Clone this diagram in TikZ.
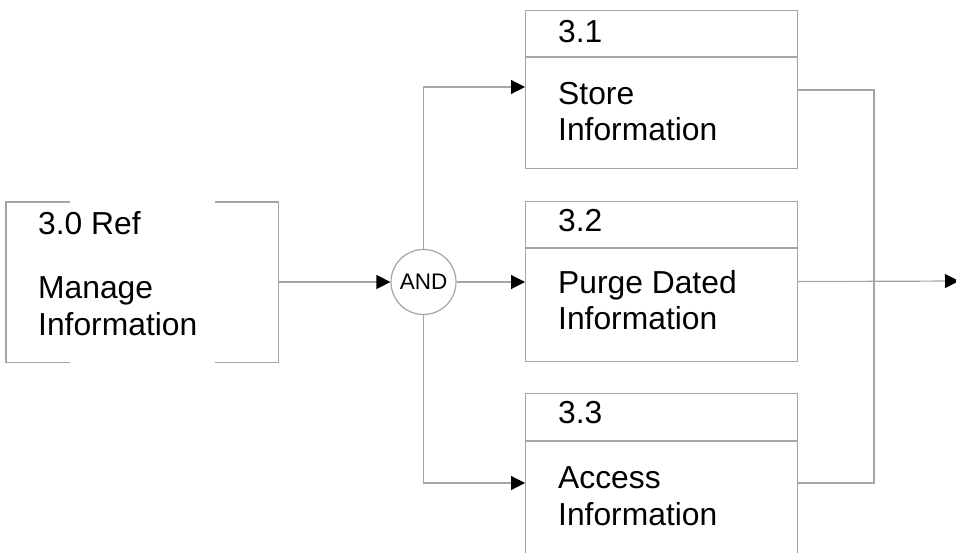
\documentclass[tikz,border=0pt]{standalone}
\usepackage{fontspec}
\setmainfont{Liberation Sans}
\usetikzlibrary{arrows.meta}
\definecolor{lg}{RGB}{165,165,165}
\begin{document}
\begin{tikzpicture}[x=1pt,y=-1pt,
  ln/.style={draw=lg,line width=1.2pt},
  arr/.style={ln,-{Triangle[length=14pt,width=14pt,color=black,fill=black]}},
  lbl/.style={anchor=base west,inner sep=0pt,font=\fontsize{31.8}{37}\selectfont},
  procbox/.style={draw=lg,line width=1.2pt,minimum width=272pt,anchor=north west,inner sep=0pt}]
\clip (0,0) rectangle (956,552);
\fill[white] (0,0) rectangle (956,552);

% parent (reference) box with gaps
\node[anchor=north west,minimum width=272pt,minimum height=160pt,inner sep=0pt] (ref) at (6,202) {};
\draw[ln] ([xshift=64pt]ref.north west) -- (ref.north west) -- (ref.south west) -- ([xshift=64pt]ref.south west);
\draw[ln] ([xshift=-63pt]ref.north east) -- (ref.north east) -- (ref.south east) -- ([xshift=-63pt]ref.south east);
\node[lbl] (r1) at (38,234) {3.0 Ref};
\node[lbl] (r2) at (38,298) {Manage};
\node[lbl] (r3) at (38,335) {Information};

% AND junction
\node[circle,draw=lg,line width=1.2pt,minimum size=65pt,inner sep=0pt,font=\fontsize{22.5}{26}\selectfont] (and) at (423.5,282) {AND};

% process boxes
\node[procbox,minimum height=158pt] (b31) at (525,10) {};
\draw[ln] (525,57) -- (797,57);
\node[lbl] (t31a) at (558,42) {3.1};
\node[lbl] (t31b) at (558,104) {Store};
\node[lbl] (t31c) at (558,140) {Information};

\node[procbox,minimum height=160pt] (b32) at (525,201) {};
\draw[ln] (525,248) -- (797,248);
\node[lbl] (t32a) at (558,231) {3.2};
\node[lbl] (t32b) at (558,293) {Purge Dated};
\node[lbl] (t32c) at (558,329) {Information};

\node[procbox,minimum height=165pt] (b33) at (525,393) {};
\draw[ln] (525,441) -- (797,441);
\node[lbl] (t33a) at (558,423) {3.3};
\node[lbl] (t33b) at (558,488) {Access};
\node[lbl] (t33c) at (558,525) {Information};

% connectors
\coordinate (in31) at (525,87);
\coordinate (in33) at (525,483);
\coordinate (o31) at (797,90);
\coordinate (o33) at (797,483);
\coordinate (bus) at (874,483);
\coordinate (out) at (959,281);

\draw[arr] (ref.east |- and.west) -- (and.west);
\draw[arr] (and.east) -- (b32.west |- and.east);
\draw[arr] (and.north) |- (in31);
\draw[arr] (and.south) |- (in33);
\draw[ln] (o31) -| (bus) -- (o33);
\draw[arr] (b32.east) -- (out);
\end{tikzpicture}
\end{document}
